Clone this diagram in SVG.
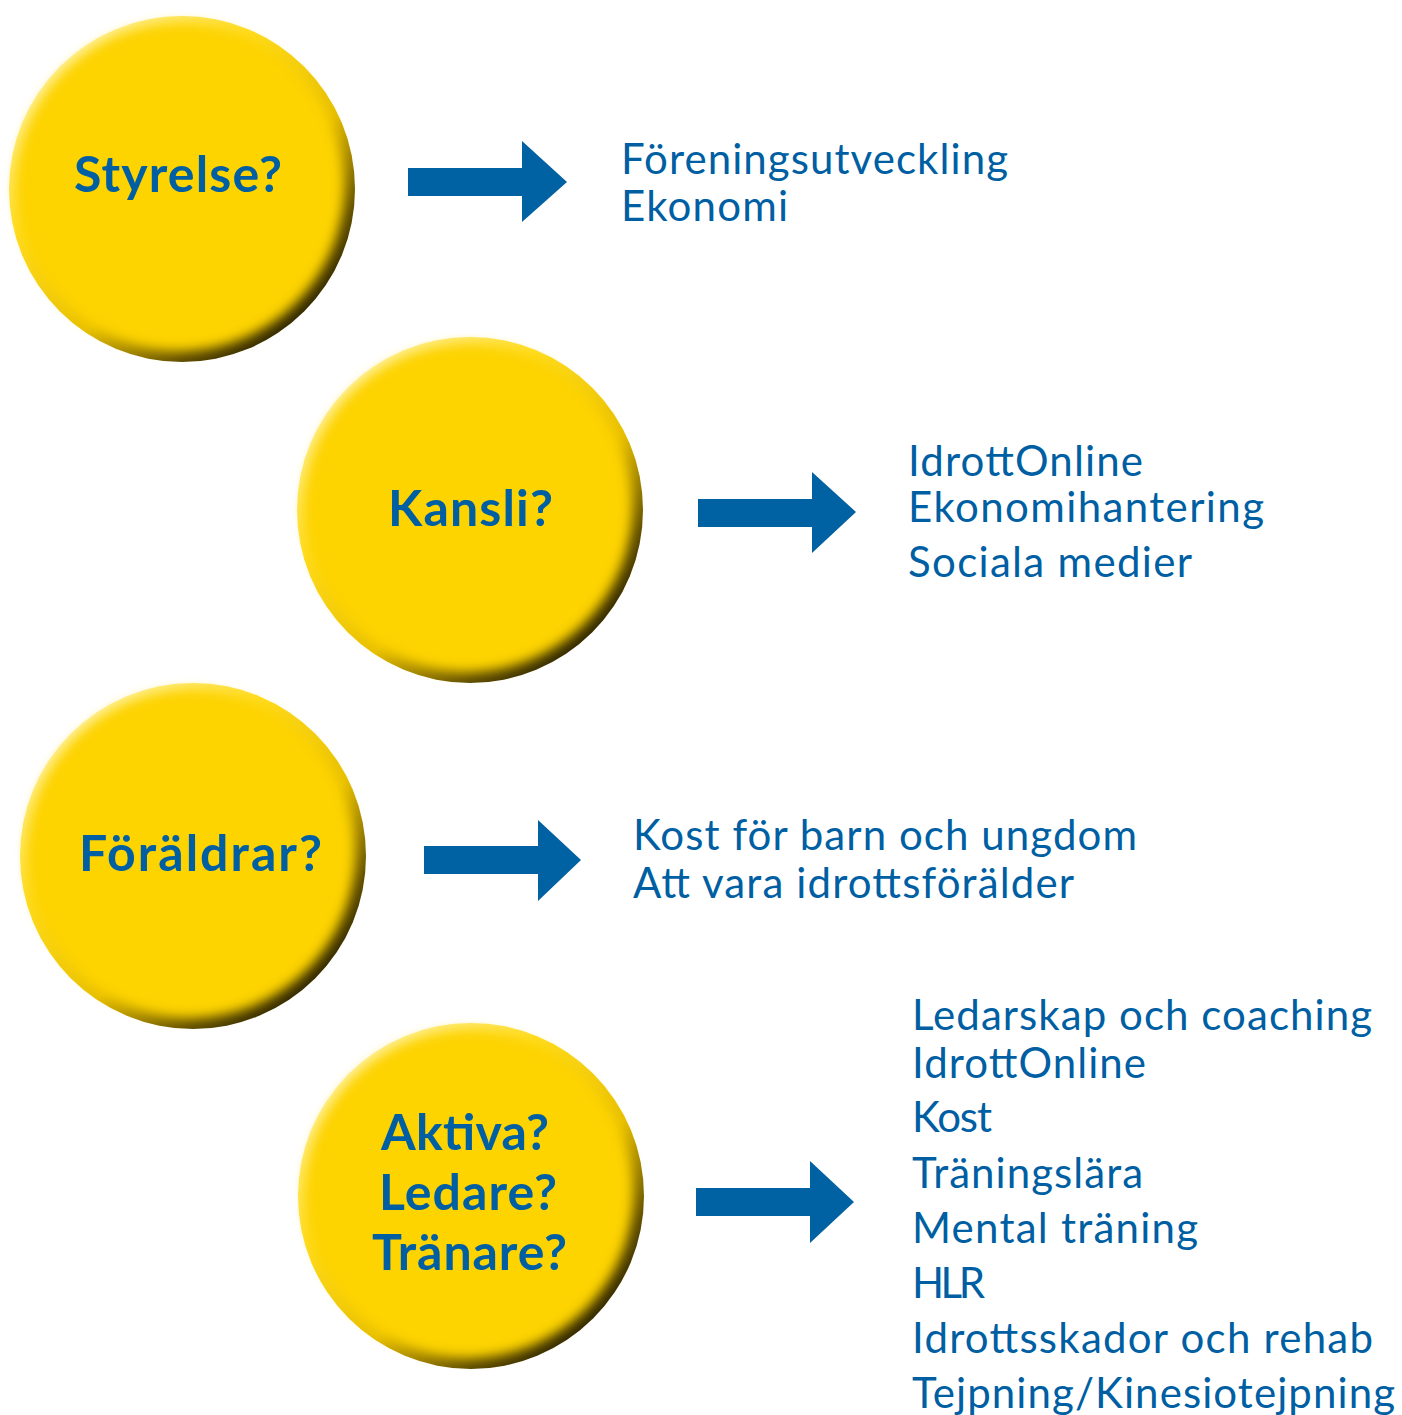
<svg xmlns="http://www.w3.org/2000/svg" width="1402" height="1415" viewBox="0 0 1402 1415">
<style>
.rim{fill:url(#rim)}
.face{fill:#FDD300;filter:url(#soft)}
.lbl{font-family:Lato,"Open Sans","Liberation Sans",sans-serif;font-weight:bold;font-size:50px;fill:#005FA3;text-anchor:start}
.item{font-family:Lato,"Open Sans","Liberation Sans",sans-serif;font-size:42px;fill:#005FA3}
.arrow{fill:#0061A3}
</style>
<defs>
<linearGradient id="rim" x1="0.15" y1="0.1" x2="0.85" y2="0.9">
<stop offset="0" stop-color="#FFF3A8"/>
<stop offset="0.3" stop-color="#FFDB20"/>
<stop offset="0.62" stop-color="#E6BE00"/>
<stop offset="0.85" stop-color="#5E4C00"/>
<stop offset="1" stop-color="#2A2200"/>
</linearGradient>
<filter id="soft" x="-10%" y="-10%" width="120%" height="120%"><feGaussianBlur stdDeviation="6"/></filter>
</defs>
<rect width="1402" height="1415" fill="#FFFFFF"/>

<g id="node-styrelse">
<circle class="rim" cx="182" cy="189" r="173"/>
<circle class="face" cx="180" cy="187" r="164"/>
<text class="lbl" x="74" y="192" textLength="208">Styrelse?</text>
</g>

<g id="node-kansli">
<circle class="rim" cx="470" cy="510" r="173"/>
<circle class="face" cx="468" cy="508" r="164"/>
<text class="lbl" x="388" y="526" textLength="165">Kansli?</text>
</g>

<g id="node-foraldrar">
<circle class="rim" cx="193" cy="856" r="173"/>
<circle class="face" cx="191" cy="854" r="164"/>
<text class="lbl" x="79" y="871" textLength="243">Föräldrar?</text>
</g>

<g id="node-aktiva">
<circle class="rim" cx="471" cy="1196" r="173"/>
<circle class="face" cx="469" cy="1194" r="164"/>
<text class="lbl" x="381" y="1150" textLength="168">Aktiva?</text>
<text class="lbl" x="379" y="1210" textLength="178">Ledare?</text>
<text class="lbl" x="372" y="1270" textLength="195">Tränare?</text>
</g>

<g id="connectors">
<polygon class="arrow" points="408,168 522,168 522,141 567,182 522,222 522,196 408,196"/>
<polygon class="arrow" points="698,499 812,499 812,472 856,512 812,553 812,527 698,527"/>
<polygon class="arrow" points="424,846 538,846 538,820 581,860 538,901 538,874 424,874"/>
<polygon class="arrow" points="696,1188 810,1188 810,1161 854,1202 810,1243 810,1216 696,1216"/>
</g>

<g id="list-styrelse">
<text class="item" x="621" y="174" textLength="387">Föreningsutveckling</text>
<text class="item" x="621" y="221" textLength="167">Ekonomi</text>
</g>

<g id="list-kansli">
<text class="item" x="908" y="476" textLength="235">IdrottOnline</text>
<text class="item" x="908" y="522" textLength="356">Ekonomihantering</text>
<text class="item" x="908" y="577" textLength="284">Sociala medier</text>
</g>

<g id="list-foraldrar">
<text class="item" x="633" y="850" textLength="504">Kost för barn och ungdom</text>
<text class="item" x="633" y="898" textLength="441">Att vara idrottsförälder</text>
</g>

<g id="list-aktiva">
<text class="item" x="912" y="1030" textLength="460">Ledarskap och coaching</text>
<text class="item" x="912" y="1078" textLength="234">IdrottOnline</text>
<text class="item" x="912" y="1132" textLength="80">Kost</text>
<text class="item" x="912" y="1188" textLength="231">Träningslära</text>
<text class="item" x="912" y="1243" textLength="286">Mental träning</text>
<text class="item" x="912" y="1298" textLength="73">HLR</text>
<text class="item" x="912" y="1353" textLength="461">Idrottsskador och rehab</text>
<text class="item" x="912" y="1408" textLength="483">Tejpning/Kinesiotejpning</text>
</g>
</svg>
